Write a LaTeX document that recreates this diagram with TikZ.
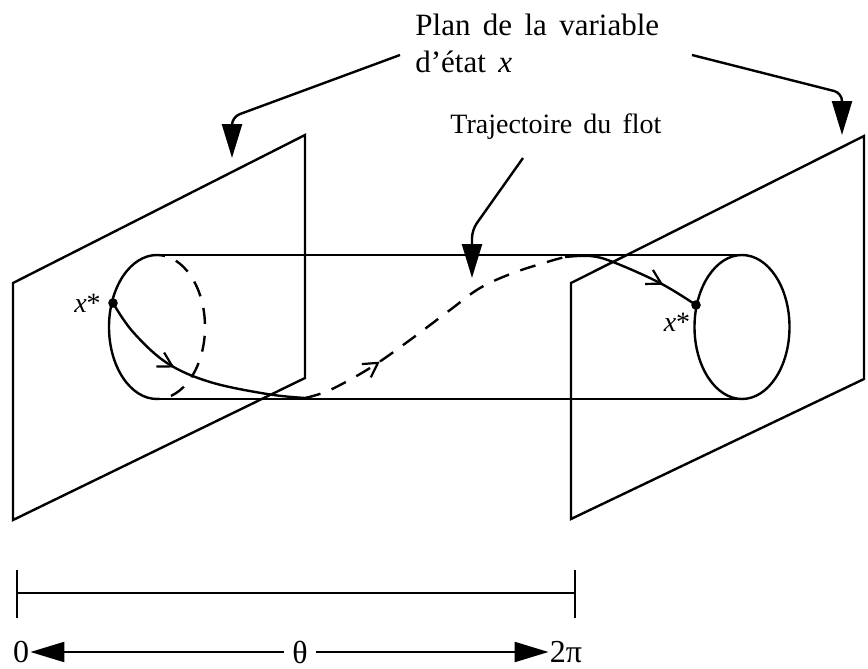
\documentclass[tikz,border=0pt]{standalone}
\usepackage{fontspec}
\setmainfont{Liberation Serif}
\newfontfamily\planfont[Ligatures=TeX, WordSpace=1.6]{Liberation Serif}
\usetikzlibrary{arrows.meta,decorations.markings}
\tikzset{
  plane/.style = {line width=1.2pt, line join=miter},
  pointer/.style = {line width=1.2pt, rounded corners=4pt, -{Triangle[length=17pt,width=10pt]}},
  flow/.style = {line width=1.2pt, smooth, tension=0.6},
  backline/.style = {dash pattern=on 8pt off 6pt},
  flowarrow/.style = {postaction={decorate}, decoration={markings,
      mark=at position #1 with {\arrow{Straight Barb[length=7pt,width=8pt,line width=1.1pt]}}}},
  dot/.style = {circle, fill, inner sep=1.7pt},
  lbl/.style = {font=\planfont\fontsize{15.5}{18.5}\selectfont},
  xlbl/.style = {font=\fontsize{14}{16}\selectfont},
  scale lbl/.style = {font=\fontsize{16}{18}\selectfont, inner ysep=0.5pt}
}
\begin{document}
\begin{tikzpicture}[x=0.5pt, y=-0.5pt]
  \useasboundingbox (0,0) rectangle (868,669);
  % the two planes
  \draw[plane] (13,283) -- (305,135) -- (305,378) -- (13,520) -- cycle;
  \draw[plane] (571,283) -- (864,136) -- (864,379) -- (571,519) -- cycle;
  % cylinder
  \coordinate (lc) at (157,327);
  \coordinate (rc) at (742,327);
  \draw[plane] (157,255) -- (742,255) (157,399) -- (742,399);
  \draw[plane] (157,255) arc[start angle=270, end angle=90, x radius=48, y radius=72];
  \draw[plane, backline, dash phase=4pt] (157,255) arc[start angle=270, end angle=450, x radius=48, y radius=72];
  \draw[plane] (rc) ellipse[x radius=47.5, y radius=72];
  % trajectory
  \draw[flow, flowarrow=0.4]
    plot coordinates{(113,303) (133,332) (167,363) (210,382) (267,394) (305,398)};
  \draw[flow, backline, flowarrow=0.28]
    plot coordinates{(305,398) (330,390) (370,368) (410,340) (450,310) (480,288) (513,273) (547,262) (565,257)};
  \draw[flow, flowarrow=0.73]
    plot coordinates{(565,257) (590,256) (613,262) (660,283) (696,305)};
  \node[dot] (xl) at (113,303) {};
  \node[dot] (xr) at (696,305) {};
  \node[xlbl, anchor=east] (xllbl) at (xl.west) {\textit{x}*};
  \node[xlbl] (xrlbl) at (677,322) {\textit{x}*};
  % labels and pointers
  \node[lbl, anchor=north west, align=left, inner sep=0pt] (plan) at (415,14) {Plan de la variable\\d'état \textit{x}};
  \node[xlbl, anchor=base west, inner sep=0pt] (traj) at (450,133) {Trajectoire du flot};
  \coordinate (planfromL) at (400,55);
  \coordinate (planfromR) at (692,55);
  \coordinate (trajfrom) at (523,158);
  \coordinate (planL) at (232,158);
  \coordinate (planR) at (842,135);
  \coordinate (cyltop) at (472,278);
  \draw[pointer] (planfromL) -- (232,117) -- (planL);
  \draw[pointer] (planfromR) -- (842,93) -- (planR);
  \draw[pointer] (trajfrom) -- (472,230) -- (cyltop);
  % period scale
  \draw[plane] (17,593) -- (575,593);
  \draw[line width=0.8pt] (17,570) -- (17,618) (575,570) -- (575,618);
  \node[scale lbl, inner xsep=0.5pt] (zero) at (21,652) {0};
  \node[scale lbl, inner xsep=4pt] (theta) at (300,652) {θ};
  \node[scale lbl, inner xsep=0.5pt] (twopi) at (566,652) {2π};
  \draw[pointer] (theta) -- (zero);
  \draw[pointer] (theta) -- (twopi);
\end{tikzpicture}
\end{document}
